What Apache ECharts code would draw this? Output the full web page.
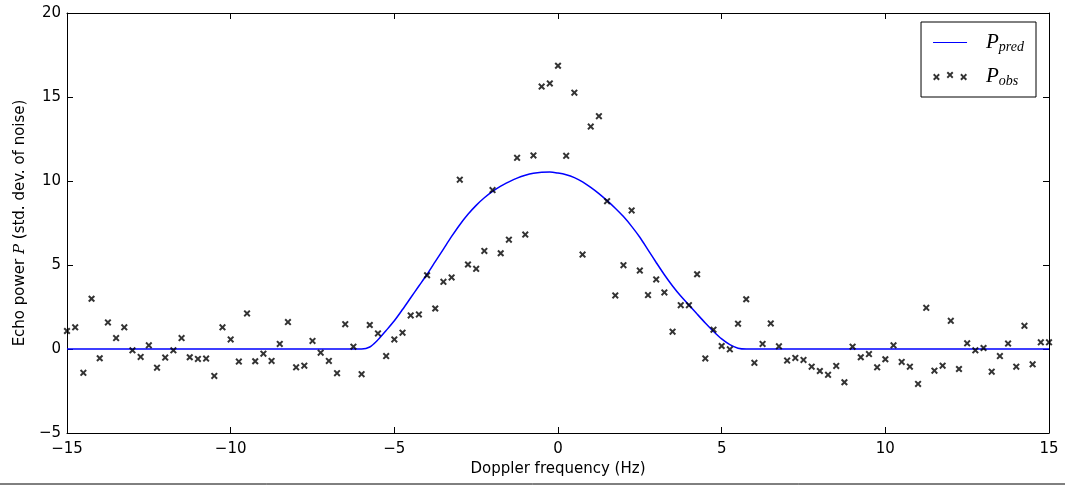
<!DOCTYPE html>
<html>
<head>
<meta charset="utf-8">
<script src="https://cdn.jsdelivr.net/npm/echarts@6/dist/echarts.min.js"></script>
<style>
html,body{margin:0;padding:0;background:#fff;}
#chart{width:1065px;height:485px;}
</style>
</head>
<body>
<div id="chart"></div>
<script>
const xTicks = [-15, -10, -5, 0, 5, 10, 15];
const yTicks = [-5, 0, 5, 10, 15, 20];

const obsX = [-15,-14.75,-14.5,-14.25,-14,-13.75,-13.5,-13.25,-13,-12.75,-12.5,-12.25,-12,-11.75,-11.5,-11.25,-11,-10.75,-10.5,-10.25,-10,-9.75,-9.5,-9.25,-9,-8.75,-8.5,-8.25,-8,-7.75,-7.5,-7.25,-7,-6.75,-6.5,-6.25,-6,-5.75,-5.5,-5.25,-5,-4.75,-4.5,-4.25,-4,-3.75,-3.5,-3.25,-3,-2.75,-2.5,-2.25,-2,-1.75,-1.5,-1.25,-1,-0.75,-0.5,-0.25,0,0.25,0.5,0.75,1,1.25,1.5,1.75,2,2.25,2.5,2.75,3,3.25,3.5,3.75,4,4.25,4.5,4.75,5,5.25,5.5,5.75,6,6.25,6.5,6.75,7,7.25,7.5,7.75,8,8.25,8.5,8.75,9,9.25,9.5,9.75,10,10.25,10.5,10.75,11,11.25,11.5,11.75,12,12.25,12.5,12.75,13,13.25,13.5,13.75,14,14.25,14.5,14.75,15];
const obsY = [1.07,1.29,-1.42,2.99,-0.55,1.58,0.65,1.29,-0.08,-0.47,0.22,-1.11,-0.51,-0.08,0.65,-0.49,-0.59,-0.57,-1.60,1.29,0.57,-0.75,2.12,-0.73,-0.28,-0.71,0.30,1.60,-1.09,-0.99,0.48,-0.22,-0.71,-1.44,1.48,0.14,-1.50,1.43,0.93,-0.42,0.57,0.97,2.00,2.06,4.39,2.41,4.00,4.26,10.08,5.03,4.77,5.84,9.46,5.70,6.51,11.38,6.81,11.52,15.62,15.81,16.86,11.50,15.26,5.62,13.24,13.86,8.80,3.19,4.99,8.25,4.67,3.21,4.14,3.37,1.03,2.61,2.61,4.45,-0.56,1.15,0.18,-0.02,1.51,2.96,-0.82,0.30,1.52,0.16,-0.69,-0.53,-0.65,-1.05,-1.31,-1.54,-1.01,-1.98,0.14,-0.49,-0.30,-1.09,-0.61,0.22,-0.77,-1.05,-2.08,2.45,-1.29,-0.99,1.68,-1.19,0.34,-0.08,0.06,-1.35,-0.42,0.32,-1.05,1.38,-0.91,0.40,0.40];

const predX = [-15,-6.0,-5.75,-5.5,-5.25,-5.0,-4.75,-4.5,-4.25,-4.0,-3.75,-3.5,-3.25,-3.0,-2.75,-2.5,-2.25,-2.0,-1.75,-1.5,-1.25,-1.0,-0.75,-0.5,-0.25,0,0.25,0.5,0.75,1.0,1.25,1.5,1.75,2.0,2.25,2.5,2.75,3.0,3.25,3.5,3.75,4.0,4.25,4.5,4.75,5.0,5.25,5.5,5.75,15];
const predY = [0,0,0.12,0.55,1.1,1.68,2.35,3.05,3.75,4.45,5.2,5.95,6.7,7.4,8.02,8.55,9.0,9.38,9.7,9.95,10.17,10.34,10.46,10.52,10.53,10.47,10.37,10.2,9.95,9.62,9.25,8.83,8.38,7.88,7.3,6.65,5.9,5.15,4.42,3.75,3.15,2.62,2.08,1.55,1.05,0.6,0.26,0.05,0,0];

const obsData = obsX.map((x, i) => [x, obsY[i]]);
const predData = predX.map((x, i) => [x, predY[i]]);

const xSym = 'path://M0,2L2,0L5,3L8,0L10,2L7,5L10,8L8,10L5,7L2,10L0,8L3,5Z';
const legendX = 'path://M0,5L2,3L5,6L8,3L10,5L7,8L10,11L8,13L5,10L2,13L0,11L3,8Z M20,2L22,0L25,3L28,0L30,2L27,5L30,8L28,10L25,7L22,10L20,8L23,5Z M40,5L42,3L45,6L48,3L50,5L47,8L50,11L48,13L45,10L42,13L40,11L43,8Z';

const fmt = v => String(v).replace('-', '\u2212');
const lblFont = 'DejaVu Sans';

const tickAxis = {
  axisLine: { show: true, onZero: false, lineStyle: { color: '#000', width: 1 } },
  axisTick: { show: true, inside: true, length: 6, lineStyle: { color: '#000' } },
  splitLine: { show: false }
};

const chart = echarts.init(document.getElementById('chart'));
chart.setOption({
  animation: false,
  backgroundColor: '#fff',
  grid: { left: 67, right: 16, top: 13, bottom: 52 },
  legend: {
    orient: 'vertical',
    right: 29, top: 22,
    padding: [10, 12, 9, 12],
    itemGap: 11,
    itemWidth: 34, itemHeight: 14,
    borderColor: '#000', borderWidth: 1, borderRadius: 0,
    backgroundColor: '#fff',
    data: [
      { name: 'pred', icon: 'path://M0,0L40,0L40,1.3L0,1.3Z' },
      { name: 'obs', icon: legendX }
    ],
    formatter: n => '{p|P}{s|' + n + '}',
    textStyle: {
      rich: {
        p: { fontFamily: 'Liberation Serif', fontStyle: 'italic', fontSize: 21, color: '#000', padding: [0, 0, 0, 14] },
        s: { fontFamily: 'Liberation Serif', fontStyle: 'italic', fontSize: 14, color: '#000', padding: [10, 0, 0, 0] }
      }
    }
  },
  xAxis: [Object.assign({
    type: 'value', min: -15, max: 15, interval: 5, position: 'bottom',
    name: 'Doppler frequency (Hz)', nameLocation: 'middle', nameGap: 28,
    nameTextStyle: { fontFamily: lblFont, fontSize: 15, color: '#000' },
    axisLabel: { formatter: fmt, fontFamily: lblFont, fontSize: 15, color: '#000', margin: 9 }
  }, tickAxis), Object.assign({
    type: 'value', min: -15, max: 15, interval: 5, position: 'top',
    axisLabel: { show: false }
  }, tickAxis)],
  yAxis: [Object.assign({
    type: 'value', min: -5, max: 20, interval: 5, position: 'left',
    name: 'Echo power {i|P} (std. dev. of noise)', nameLocation: 'middle', nameGap: 38,
    nameTextStyle: { fontFamily: lblFont, fontSize: 15, color: '#000',
      rich: { i: { fontFamily: 'DejaVu Serif', fontStyle: 'italic', fontSize: 15, color: '#000' } } },
    axisLabel: { formatter: fmt, fontFamily: lblFont, fontSize: 15, color: '#000', margin: 6 }
  }, tickAxis), Object.assign({
    type: 'value', min: -5, max: 20, interval: 5, position: 'right',
    axisLabel: { show: false }
  }, tickAxis)],
  series: [{
    name: 'pred', type: 'line', data: predData, showSymbol: false, symbol: 'none',
    smooth: 0.3,
    lineStyle: { color: '#0000ff', width: 1.5 }, itemStyle: { color: '#0000ff' },
    z: 2
  }, {
    name: 'obs', type: 'scatter', data: obsData, symbol: xSym, symbolSize: 7,
    itemStyle: { color: '#000' }, z: 3
  }],
  graphic: [{
    type: 'line', shape: { x1: 0, y1: 484, x2: 1065, y2: 484 },
    style: { stroke: '#000', lineWidth: 1 }
  }]
});
</script>
</body>
</html>
